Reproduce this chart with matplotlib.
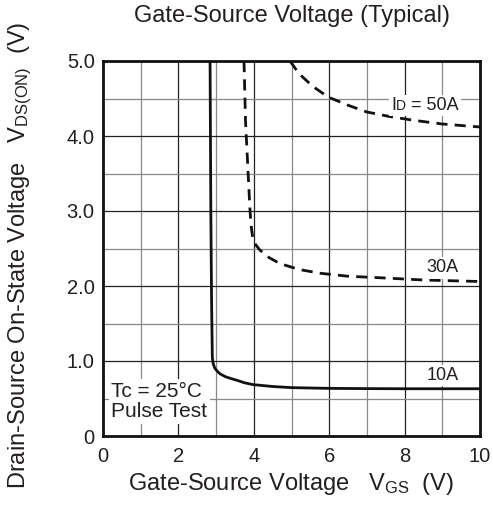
import matplotlib
matplotlib.use('Agg')
import matplotlib.pyplot as plt
from matplotlib.ticker import MultipleLocator
from matplotlib.offsetbox import TextArea, HPacker, AnnotationBbox

plt.rcParams['font.family'] = ['Liberation Sans', 'DejaVu Sans']
plt.rcParams['mathtext.fontset'] = 'custom'
plt.rcParams['mathtext.rm'] = 'Liberation Sans'
plt.rcParams['mathtext.it'] = 'Liberation Sans'

# ---- data ----
vgs_10a = [2.84, 2.86, 2.88, 2.90, 2.92, 2.96, 3.02, 3.10, 3.25, 3.40, 3.54, 3.75, 3.98, 4.5, 5.0, 6.0, 7.0, 8.0, 10.0]
vds_10a = [5.00, 3.00, 1.80, 1.05, 0.97, 0.91, 0.87, 0.83, 0.79, 0.765, 0.745, 0.71, 0.685, 0.66, 0.645, 0.635, 0.632, 0.63, 0.63]

vgs_30a = [3.74, 3.78, 3.84, 3.90, 3.93, 3.97, 4.05, 4.16, 4.40, 4.69, 5.20, 5.76, 6.5, 7.35, 8.5, 10.0]
vds_30a = [5.00, 4.20, 3.60, 3.00, 2.80, 2.65, 2.55, 2.48, 2.38, 2.30, 2.22, 2.17, 2.13, 2.11, 2.08, 2.06]

vgs_50a = [4.96, 5.20, 5.57, 5.97, 6.5, 7.0, 7.6, 8.23, 9.0, 10.0]
vds_50a = [5.00, 4.83, 4.66, 4.52, 4.41, 4.32, 4.26, 4.21, 4.16, 4.12]

x_ticks = [0, 2, 4, 6, 8, 10]
y_ticks = [0, 1, 2, 3, 4, 5]
y_ticklabels = ['0', '1.0', '2.0', '3.0', '4.0', '5.0']

ink = '#231f20'

fig = plt.figure(figsize=(4.93, 5.19), dpi=100)
ax = fig.add_axes([103/493, 1 - 436/519, 377/493, 375/519])

# grid: darker at even x / integer y, gray in between
ax.xaxis.set_major_locator(MultipleLocator(2))
ax.xaxis.set_minor_locator(MultipleLocator(1))
ax.yaxis.set_major_locator(MultipleLocator(1))
ax.yaxis.set_minor_locator(MultipleLocator(0.5))
ax.grid(which='major', color='#222222', linewidth=0.9)
ax.grid(which='minor', color='#888888', linewidth=0.9)
ax.set_axisbelow(True)

ax.plot(vgs_10a, vds_10a, color='#111111', linewidth=2.0, solid_capstyle='butt')
ax.plot(vgs_30a, vds_30a, color='#111111', linewidth=2.0, dashes=(4, 2.6))
ax.plot(vgs_50a, vds_50a, color='#111111', linewidth=2.0, dashes=(4, 2.6))

# I_D label with small-cap D
parts = [TextArea('I', textprops=dict(fontsize=13, color=ink)),
         TextArea('D', textprops=dict(fontsize=10, color=ink)),
         TextArea(' = 50A', textprops=dict(fontsize=13, color=ink))]
pack = HPacker(children=parts, align='baseline', pad=0, sep=0)
ab = AnnotationBbox(pack, (8.54, 4.41), xycoords='data', frameon=True, pad=0.15,
                    bboxprops=dict(facecolor='white', edgecolor='none'))
ax.add_artist(ab)

box = dict(facecolor='white', edgecolor='none', pad=1.5)
ax.text(9.0, 2.24, '30A', fontsize=13, ha='center', va='center', bbox=box, color=ink)
ax.text(9.0, 0.81, '10A', fontsize=13, ha='center', va='center', bbox=box, color=ink)
ax.text(0.22, 0.46, 'Tc = 25°C\nPulse Test', fontsize=15, ha='left', va='center',
        linespacing=1.05, color=ink,
        bbox=dict(facecolor='white', edgecolor='none', pad=2))

ax.set_xlim(0, 10)
ax.set_ylim(0, 5)
ax.set_xticks(x_ticks)
ax.set_yticks(y_ticks)
ax.set_yticklabels(y_ticklabels)
ax.tick_params(which='both', length=0, labelsize=14.5, colors=ink, pad=6)
ax.tick_params(axis='x', pad=8)
for sp in ax.spines.values():
    sp.set_linewidth(2.0)
    sp.set_color('#111111')

fig.text(292/493, 1 - 16/519, 'Gate-Source Voltage (Typical)', fontsize=17, ha='center', va='center', color=ink)
fig.text(291/493, 1 - 484/519, r'Gate-Source Voltage   V$_{\rm GS}$  (V)', fontsize=17, ha='center', va='center', color=ink)
fig.text(20/493, 1 - 255/519, r'Drain-Source On-State Voltage   V$_{\rm DS(ON)}$  (V)', fontsize=17,
         ha='center', va='center', rotation=90, color=ink)

fig.savefig('out.png', dpi=100)
